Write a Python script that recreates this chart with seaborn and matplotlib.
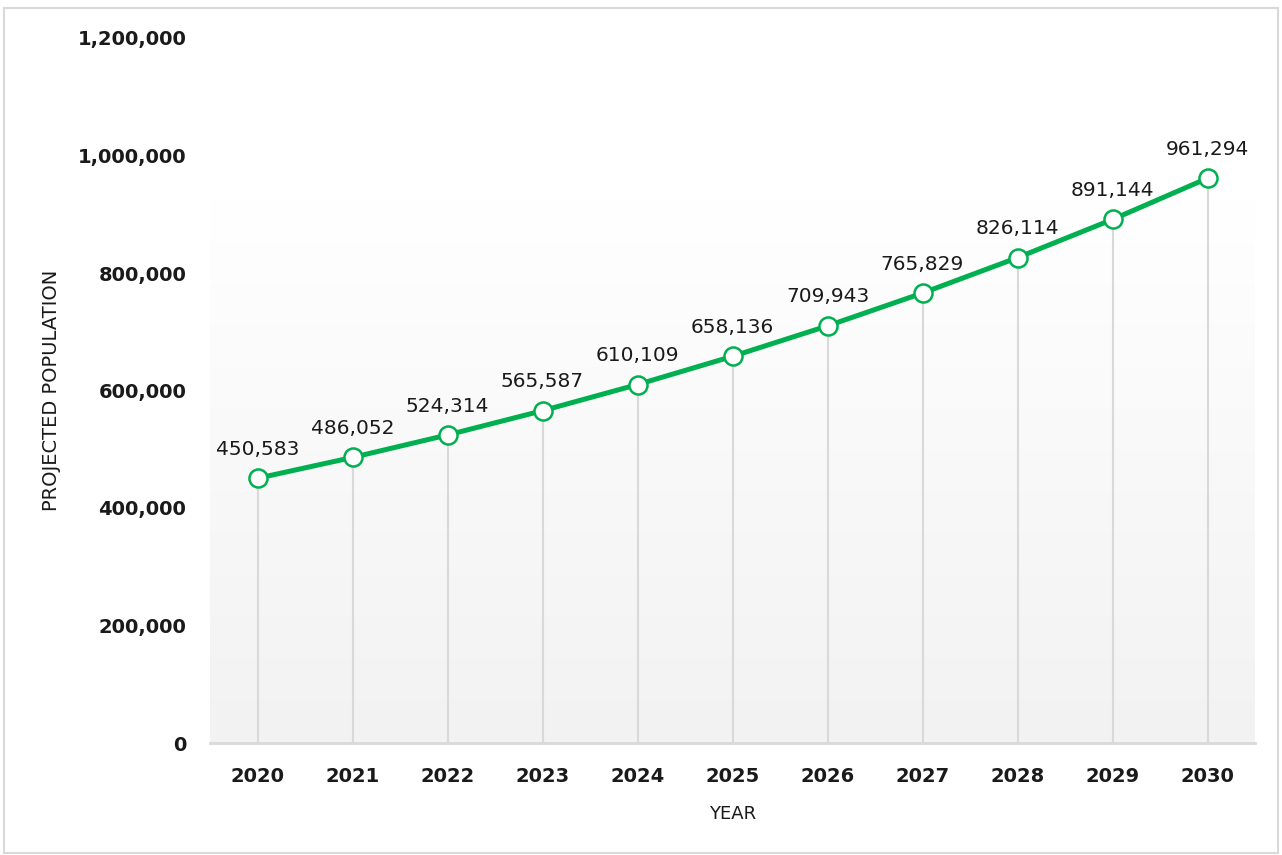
import matplotlib
matplotlib.use("Agg")
import matplotlib.pyplot as plt
import seaborn as sns
import numpy as np
import pandas as pd
from matplotlib.patches import Rectangle

years = ["2020", "2021", "2022", "2023", "2024", "2025", "2026", "2027", "2028", "2029", "2030"]
population = [450583, 486052, 524314, 565587, 610109, 658136, 709943, 765829, 826114, 891144, 961294]
y_ticks = [0, 200000, 400000, 600000, 800000, 1000000, 1200000]

df = pd.DataFrame({"year": years, "population": population})

sns.set_theme(style="white")
plt.rcParams['font.family'] = ['DejaVu Sans']

fig = plt.figure(figsize=(12.82, 8.55), dpi=100)
fig.patch.set_facecolor("white")
fig.patches.append(Rectangle((4/1282, 2/855), 1-8/1282, 1-10/855, transform=fig.transFigure,
                             fill=False, edgecolor="#d9d9d9", linewidth=1.5))
ax = fig.add_axes([210/1282, 1-743/855, (1255-210)/1282, (743-38)/855])

green = "#00B050"

# gradient background
grad = np.linspace(0, 1, 256).reshape(-1, 1)
c_top = np.array([1.0, 1.0, 1.0])
c_bot = np.array([0xf2, 0xf2, 0xf2]) / 255
img = c_top[None, None, :] * (1 - grad[:, :, None]) + c_bot[None, None, :] * grad[:, :, None]
ax.imshow(img, extent=(-0.5, 10.5, 0, 925000), aspect="auto", origin="upper", zorder=0)

x_pos = np.arange(len(years))
ax.vlines(x_pos, 0, df["population"], color="#d9d9d9", linewidth=1.5, zorder=1)

sns.lineplot(data=df, x="year", y="population", ax=ax, color=green, linewidth=3.6,
             marker="o", markersize=13, markerfacecolor="white", markeredgecolor=green,
             markeredgewidth=1.8, sort=False, zorder=3)

for i, v in enumerate(population):
    ax.annotate(f"{v:,}", (i, v), xytext=(0, 14), textcoords="offset points",
                ha="center", va="bottom", fontsize=14.5, color="#1a1a1a", zorder=4)

ax.set_xlim(-0.5, 10.5)
ax.set_ylim(0, 1200000)
ax.set_yticks(y_ticks)
ax.set_yticklabels([f"{t:,}" for t in y_ticks], fontsize=14, fontweight="bold", color="#1a1a1a")
ax.set_xticks(x_pos)
ax.set_xticklabels(years, fontsize=14, fontweight="bold", color="#1a1a1a")
ax.tick_params(axis="both", length=0)
ax.tick_params(axis="y", pad=17)
ax.tick_params(axis="x", pad=17)

for s in ["top", "right", "left"]:
    ax.spines[s].set_visible(False)
ax.spines["bottom"].set_color("#d9d9d9")
ax.spines["bottom"].set_linewidth(2)
ax.set_facecolor("white")

ax.set_xlabel("YEAR", fontsize=13, color="#1a1a1a", labelpad=14)
ax.set_ylabel("PROJECTED POPULATION", fontsize=14, color="#1a1a1a", labelpad=12)
ax.grid(False)

fig.savefig("out.png", dpi=100)
